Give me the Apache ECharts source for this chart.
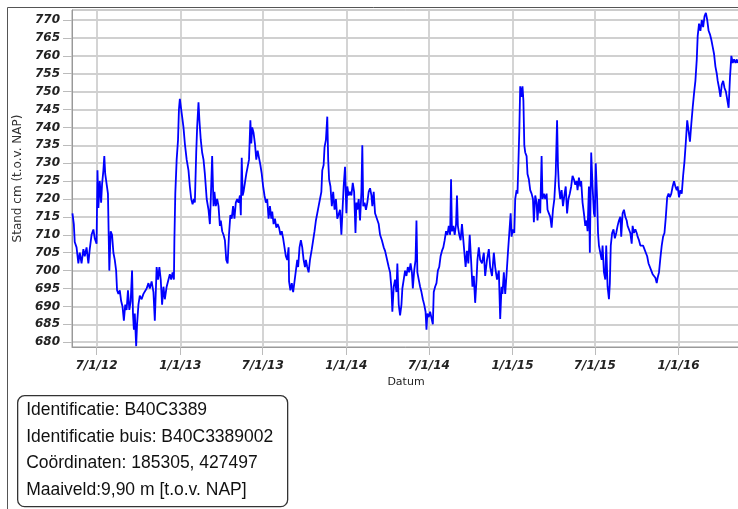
<!DOCTYPE html>
<html><head><meta charset="utf-8">
<script src="https://cdn.jsdelivr.net/npm/echarts@6/dist/echarts.min.js"></script>
<style>html,body{margin:0;padding:0;background:#fff}#c{width:738px;height:509px}</style>
</head><body><div id="c"></div>
<script>
const dates = [
'2012-05-09','2012-05-12','2012-05-14','2012-05-18','2012-05-22','2012-05-25','2012-05-29','2012-06-02','2012-06-05','2012-06-09',
'2012-06-13','2012-06-16','2012-06-20','2012-06-24','2012-06-27','2012-07-01','2012-07-03','2012-07-05','2012-07-08','2012-07-11',
'2012-07-13','2012-07-16','2012-07-18','2012-07-20','2012-07-23','2012-07-26','2012-07-29','2012-08-01','2012-08-04','2012-08-07',
'2012-08-10','2012-08-13','2012-08-15','2012-08-18','2012-08-21','2012-08-24','2012-08-27','2012-08-30','2012-09-02','2012-09-05',
'2012-09-08','2012-09-11','2012-09-14','2012-09-17','2012-09-19','2012-09-21','2012-09-23','2012-09-26','2012-09-28','2012-10-01',
'2012-10-04','2012-10-08','2012-10-12','2012-10-15','2012-10-19','2012-10-23','2012-10-26','2012-10-30','2012-11-03','2012-11-06',
'2012-11-10','2012-11-13','2012-11-16','2012-11-19','2012-11-22','2012-11-25','2012-11-28','2012-12-02','2012-12-06','2012-12-09',
'2012-12-12','2012-12-15','2012-12-18','2012-12-19','2012-12-21','2012-12-24','2012-12-27','2012-12-29','2012-12-31','2013-01-03',
'2013-01-05','2013-01-08','2013-01-11','2013-01-15','2013-01-19','2013-01-22','2013-01-25','2013-01-28','2013-01-31','2013-02-02',
'2013-02-05','2013-02-07','2013-02-10','2013-02-12','2013-02-15','2013-02-18','2013-02-21','2013-02-24','2013-02-28','2013-03-04',
'2013-03-07','2013-03-09','2013-03-12','2013-03-15','2013-03-17','2013-03-20','2013-03-23','2013-03-26','2013-03-29','2013-03-31',
'2013-04-03','2013-04-06','2013-04-09','2013-04-12','2013-04-15','2013-04-18','2013-04-21','2013-04-24','2013-04-27','2013-04-30',
'2013-05-03','2013-05-06','2013-05-09','2013-05-12','2013-05-14','2013-05-16','2013-05-18','2013-05-20','2013-05-23','2013-05-26',
'2013-05-29','2013-06-01','2013-06-04','2013-06-06','2013-06-08','2013-06-11','2013-06-14','2013-06-17','2013-06-20','2013-06-23',
'2013-06-26','2013-06-29','2013-07-02','2013-07-05','2013-07-08','2013-07-11','2013-07-14','2013-07-17','2013-07-20','2013-07-22',
'2013-07-25','2013-07-28','2013-07-31','2013-08-03','2013-08-06','2013-08-09','2013-08-12','2013-08-15','2013-08-18','2013-08-21',
'2013-08-24','2013-08-27','2013-08-28','2013-08-31','2013-09-03','2013-09-06','2013-09-09','2013-09-12','2013-09-15','2013-09-17',
'2013-09-20','2013-09-23','2013-09-26','2013-09-29','2013-10-02','2013-10-04','2013-10-07','2013-10-10','2013-10-13','2013-10-17',
'2013-10-20','2013-10-23','2013-10-26','2013-10-29','2013-11-01','2013-11-04','2013-11-07','2013-11-09','2013-11-12','2013-11-14',
'2013-11-17','2013-11-20','2013-11-22','2013-11-24','2013-11-27','2013-11-30','2013-12-03','2013-12-06','2013-12-09','2013-12-12',
'2013-12-15','2013-12-18','2013-12-21','2013-12-23','2013-12-26','2013-12-29','2014-01-01','2014-01-03','2014-01-06','2014-01-09',
'2014-01-12','2014-01-15','2014-01-18','2014-01-21','2014-01-23','2014-01-25','2014-01-28','2014-01-31','2014-02-03','2014-02-05',
'2014-02-07','2014-02-10','2014-02-13','2014-02-16','2014-02-19','2014-02-22','2014-02-25','2014-02-27','2014-03-02','2014-03-05',
'2014-03-09','2014-03-13','2014-03-16','2014-03-20','2014-03-24','2014-03-27','2014-03-31','2014-04-04','2014-04-07','2014-04-10',
'2014-04-12','2014-04-15','2014-04-18','2014-04-21','2014-04-23','2014-04-26','2014-04-29','2014-05-02','2014-05-04','2014-05-07',
'2014-05-10','2014-05-13','2014-05-16','2014-05-19','2014-05-22','2014-05-25','2014-05-27','2014-05-30','2014-06-02','2014-06-04',
'2014-06-06','2014-06-09','2014-06-12','2014-06-15','2014-06-18','2014-06-21','2014-06-24','2014-06-26','2014-06-28','2014-07-01',
'2014-07-04','2014-07-07','2014-07-10','2014-07-12','2014-07-15','2014-07-18','2014-07-21','2014-07-24','2014-07-27','2014-07-30',
'2014-08-02','2014-08-05','2014-08-08','2014-08-11','2014-08-14','2014-08-17','2014-08-19','2014-08-21','2014-08-24','2014-08-27',
'2014-08-30','2014-09-01','2014-09-03','2014-09-06','2014-09-09','2014-09-12','2014-09-15','2014-09-17','2014-09-20','2014-09-23',
'2014-09-26','2014-09-29','2014-10-02','2014-10-05','2014-10-08','2014-10-11','2014-10-14','2014-10-16','2014-10-19','2014-10-22',
'2014-10-26','2014-10-30','2014-11-02','2014-11-06','2014-11-10','2014-11-13','2014-11-17','2014-11-21','2014-11-24','2014-11-28',
'2014-12-02','2014-12-05','2014-12-08','2014-12-10','2014-12-13','2014-12-16','2014-12-19','2014-12-22','2014-12-25','2014-12-28',
'2014-12-30','2015-01-02','2015-01-05','2015-01-07','2015-01-10','2015-01-12','2015-01-14','2015-01-16','2015-01-18','2015-01-21',
'2015-01-23','2015-01-25','2015-01-27','2015-01-29','2015-02-01','2015-02-03','2015-02-06','2015-02-09','2015-02-12','2015-02-15',
'2015-02-17','2015-02-20','2015-02-23','2015-02-25','2015-02-28','2015-03-03','2015-03-06','2015-03-08','2015-03-11','2015-03-14',
'2015-03-17','2015-03-19','2015-03-22','2015-03-25','2015-03-28','2015-03-31','2015-04-03','2015-04-06','2015-04-09','2015-04-11',
'2015-04-13','2015-04-16','2015-04-19','2015-04-22','2015-04-25','2015-04-28','2015-05-01','2015-05-04','2015-05-07','2015-05-10',
'2015-05-13','2015-05-16','2015-05-19','2015-05-22','2015-05-24','2015-05-27','2015-05-30','2015-06-01','2015-06-04','2015-06-07',
'2015-06-10','2015-06-13','2015-06-15','2015-06-18','2015-06-20','2015-06-23','2015-06-26','2015-06-29','2015-07-01','2015-07-03',
'2015-07-06','2015-07-08','2015-07-10','2015-07-13','2015-07-16','2015-07-18','2015-07-21','2015-07-24','2015-07-26','2015-07-29',
'2015-08-01','2015-08-03','2015-08-05','2015-08-08','2015-08-11','2015-08-14','2015-08-17','2015-08-20','2015-08-23','2015-08-26',
'2015-08-28','2015-08-31','2015-09-03','2015-09-06','2015-09-09','2015-09-11','2015-09-14','2015-09-17','2015-09-20','2015-09-22',
'2015-09-25','2015-09-28','2015-10-01','2015-10-03','2015-10-06','2015-10-09','2015-10-12','2015-10-15','2015-10-18','2015-10-21',
'2015-10-24','2015-10-27','2015-10-30','2015-11-02','2015-11-05','2015-11-08','2015-11-11','2015-11-14','2015-11-16','2015-11-19',
'2015-11-22','2015-11-25','2015-11-28','2015-12-01','2015-12-04','2015-12-07','2015-12-10','2015-12-13','2015-12-16','2015-12-19',
'2015-12-22','2015-12-25','2015-12-28','2015-12-30','2016-01-02','2016-01-05','2016-01-08','2016-01-11','2016-01-14','2016-01-17',
'2016-01-20','2016-01-23','2016-01-26','2016-01-29','2016-02-01','2016-02-04','2016-02-07','2016-02-10','2016-02-12','2016-02-15',
'2016-02-18','2016-02-21','2016-02-24','2016-02-27','2016-03-01','2016-03-04','2016-03-07','2016-03-10','2016-03-13','2016-03-16',
'2016-03-19','2016-03-22','2016-03-25','2016-03-27','2016-03-30','2016-04-02','2016-04-05','2016-04-08','2016-04-11','2016-04-14',
'2016-04-17','2016-04-20','2016-04-23','2016-04-26','2016-04-29','2016-05-02','2016-05-05','2016-05-08','2016-05-10'
];
const levels = [
716,713,708,706.5,702,705,702,706,704,706.5,
702,706,710,711.5,709,707.5,728,717.5,725,719,
724,728,732,727,726.5,721.5,700,711,710,705,
703,700,694.5,693.5,694.5,691.5,690,686,690.5,689,
694.5,689,691.5,700,688,683.5,688,678.9,685,690.5,
693,692,693.5,693,695,696.5,695,697,694,686,
701,697.5,701,697.5,690.5,695.5,692,695.5,695,699,
697.5,699.5,697.5,708.5,721.5,731,736.5,745,748,745,
743,740,735.5,731,728,723.5,720,718.5,720,719,
733,740,747,742,736.5,733,731,727,720,717,
713,720,732,718,722,718,720,718,712.5,714,
711,710,708.5,703,702,710,715.5,714.5,718,714.5,
719,720,719,721,715.5,731.5,721,722,724.5,727,
729,731,742,735.5,740,738.5,735.5,731,733.5,731.5,
729.5,727,723.5,721,719,720,714.5,718,714.5,716.5,
713,714.5,712,713,712,710,711,709,708.5,704,
703,706.5,697,694.5,696.5,694,697,696.5,703,701,
706.5,708.5,706.5,703,701,703,701,699.5,703,706,
708.5,711,714,714.5,718,720,722,728,729.5,734.5,
736.5,743,731,725.5,723.5,718,722,717,720,714.5,
714,717,710,715.5,723.5,729,716,723.5,721,722,
721,724.5,722,710.5,719,717,720,714,722,735,
718,719,717,719,722,723,721,718,722,716,
715.5,713,710,708.5,706.5,705.5,705,701,699.5,695,
688.5,695.5,697.5,694,702,690.5,687.5,690.5,695,697.5,
700,698.5,701,699.5,702,699.5,695,700,703,714,
699.5,697.5,695.5,694,692,690.5,688.5,683.5,688,687,
688.5,688,685,694,695.5,696.5,700,701,704,705.5,
706.5,708.5,711,710,712.5,710,725.5,711,712.5,710,
713,721,712.5,710,708.5,713,708.5,705.5,701,705.5,
702,710,703,695.5,698.5,691,697.5,703,706.5,703,
702,705,698.5,703,706,701,698.5,705,701,697.5,
700,686.5,695.5,693.5,699.5,693.5,699,705,710.5,716,
709.5,711.5,710.5,720,722.5,721.5,730,739,751.5,748.5,
751.5,747.5,735,733,732,727,725.5,722.5,721.5,720,
713.5,721,719,714,720,716,732,720,721.5,720,
721.5,717,716,715,712,717,720,727,742,729,
723.5,720,722.5,718,721,723.5,716,720,721.5,723.5,
726.5,725.5,724,725,722.5,726,723.5,725,719,716,
712.5,714,711,723.5,705,733,723.5,716,715,730,
720,710.5,707,705,703,707,699.5,697.5,707,695.5,
692,696.5,707,710.5,711.5,709,710.5,712.5,714,715,
709.5,716,717,715,714,712.5,713,710.5,707.5,712.5,
710.5,711.5,710.5,709.5,708.5,707,706.5,707,706,705,
704,702,701,700,699,698.5,698,696.5,698,699.5,
703.5,707,709.5,710.5,715,720.5,721.5,720.5,721.5,723.5,
725,723.5,722.5,723.5,720.5,722.5,721.5,726.5,730.5,736,
742,739,736,741,745.5,749.5,753,759,765.5,769,
767,770,768,771,772,770,767,766,764.5,762.5,
760.5,757,755,753,751,748.5,752,753,751,750,
749.5,745.5,754,760,758,759,758,759,758
];
const yTicks = [680,685,690,695,700,705,710,715,720,725,730,735,740,745,750,755,760,765,770];
const yTitle = 'Stand cm (t.o.v. NAP)';
const xTitle = 'Datum';
const infoLines = ['Identificatie: B40C3389', 'Identificatie buis: B40C3389002', 'Coördinaten: 185305, 427497', 'Maaiveld:9,90 m [t.o.v. NAP]'];
const yMin = 678.66, yMax = 772.8;
const xMin = '2012-05-08', xMax = '2016-05-15';

const seriesData = dates.map((d, i) => [d, levels[i]]);
const tickFont = {fontFamily: 'DejaVu Sans', fontWeight: 'bold', fontStyle: 'italic', fontSize: 12, color: '#222'};
const DAY = 86400000;

const chart = echarts.init(document.getElementById('c'), null, {renderer: 'canvas'});
chart.setOption({
  animation: false,
  backgroundColor: '#fff',
  grid: {left: 72, right: -2, top: 10, bottom: 162, show: true, borderColor: '#999', borderWidth: 1,
         backgroundColor: '#fff', containLabel: false, outerBoundsMode: 'none'},
  xAxis: {
    type: 'time', min: xMin, max: xMax,
    minInterval: 180 * DAY, maxInterval: 182 * DAY,
    name: xTitle, nameLocation: 'middle', nameGap: 28,
    nameTextStyle: {fontFamily: 'DejaVu Sans', fontSize: 11, color: '#222'},
    axisLine: {show: true, lineStyle: {color: '#999', width: 1}},
    axisTick: {show: true, length: 8, lineStyle: {color: '#bbb', width: 1}},
    axisLabel: Object.assign({margin: 13, showMinLabel: false, showMaxLabel: false,
      formatter: function (v) { const d = new Date(v); return (d.getMonth() + 1) + '/' + d.getDate() + '/' + String(d.getFullYear()).slice(2); }
    }, tickFont),
    splitLine: {show: true, lineStyle: {color: '#d0d0d0', width: 1.8}}
  },
  yAxis: {
    type: 'value', min: yMin, max: yMax,
    name: yTitle, nameLocation: 'middle', nameGap: 42,
    nameTextStyle: {fontFamily: 'DejaVu Sans', fontSize: 12, color: '#333'},
    axisLine: {show: true, lineStyle: {color: '#999', width: 1}},
    axisTick: {show: true, length: 9, customValues: yTicks, lineStyle: {color: '#bbb', width: 1}},
    axisLabel: Object.assign({margin: 12, customValues: yTicks}, tickFont),
    splitLine: {show: true, lineStyle: {color: '#d0d0d0', width: 1.8}}
  },
  series: [{
    type: 'line', data: seriesData, showSymbol: false, symbol: 'none',
    lineStyle: {color: '#0000ff', width: 1.8}, itemStyle: {color: '#0000ff'}
  }],
  graphic: [
    {type: 'rect', silent: true, shape: {x: 7.5, y: 7.5, width: 740, height: 520}, style: {fill: null, stroke: '#555', lineWidth: 1}},
    {type: 'group', left: 17, top: 395, silent: true, children: [
      {type: 'rect', shape: {x: 0.5, y: 0.5, width: 270, height: 111, r: 7}, style: {fill: '#fff', stroke: '#333', lineWidth: 1.3}}
    ].concat(infoLines.map((t, i) => ({
      type: 'text', x: 9, y: 15 + i * 26.7,
      style: {text: t, fontFamily: 'Liberation Sans', fontSize: 17.5, fill: '#111', verticalAlign: 'middle'}
    })))}
  ]
});
</script></body></html>
